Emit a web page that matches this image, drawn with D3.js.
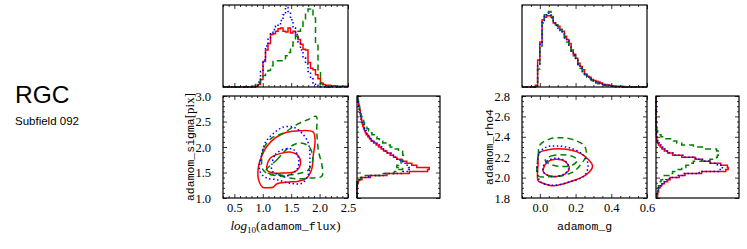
<!DOCTYPE html>
<html>
<head>
<meta charset="utf-8">
<script src="https://cdn.jsdelivr.net/npm/d3@7"></script>
<style>
    body { margin: 0; background: #fff; }
    svg { display: block; }
</style>
</head>
<body>
<div id="chart"></div>
<script>
// ---- data ----
// log10(flux) histograms: 50 bins from 0.3, width 0.044
const fluxEdge0 = 0.3, fluxBinWidth = 0.044;
const fluxRed = [0,0,0,0,0,0,0,0,0,0,0,0,0,
    0.01,0.03,0.09,0.31,0.45,0.53,0.64,0.65,0.68,0.71,0.72,0.68,0.67,0.72,0.66,0.68,0.62,0.58,0.52,0.46,0.45,
    0.30,0.23,0.21,0.15,0.10,0.05,0.03,0.02,0.02,0.015,0.015,0.01,0.01,0.01,0.01,0.01];
const fluxBlue = [0,0,0,0,0,0,0,0,0,0,0,0,0,
    0.01,0.05,0.19,0.33,0.50,0.60,0.66,0.70,0.74,0.77,0.81,0.88,0.97,0.92,0.82,0.72,0.64,0.55,0.45,0.36,0.28,
    0.19,0.10,0.05,0.02,0.01,0,0,0,0,0,0,0,0,0,0,0];
const fluxGreen = [0,0,0,0,0,0,0,0,0,0,0,0,
    0.01,0.03,0.06,0.10,0.14,0.18,0.20,0.26,0.31,0.32,0.32,0.32,0.33,0.38,0.42,0.50,0.55,0.62,0.68,0.74,0.80,
    0.92,0.95,0.96,0.84,0.53,0.21,0.04,0,0,0,0,0,0,0,0,0,0];

// sigma histograms: 50 bins from 1.0, width 0.04
const sigmaEdge0 = 1.0, sigmaBinWidth = 0.04;
const sigmaRed = [0,0,0,0,0,0,0,
    0.01,0.02,0.06,0.16,0.36,0.63,0.85,0.87,0.72,0.66,0.60,0.54,0.48,0.44,0.40,0.36,0.32,0.29,0.26,0.23,0.20,
    0.17,0.15,0.13,0.11,0.10,0.09,0.08,0.07,0.065,0.06,0.055,0.05,0.045,0.04,0.04,0.035,0.03,0.025,0.02,0.016,0.01,0.01];
const sigmaBlue = [0,0,0,0,0,0,0,0,
    0.01,0.05,0.14,0.34,0.55,0.62,0.64,0.62,0.58,0.55,0.52,0.48,0.45,0.41,0.37,0.33,0.30,0.27,0.24,0.21,0.18,
    0.16,0.14,0.12,0.11,0.10,0.09,0.08,0.07,0.06,0.05,0.045,0.04,0.035,0.03,0.025,0.02,0.02,0.015,0.01,0.005,0.005];
const sigmaGreen = [0,0,0,0,0,0,0,0,
    0.01,0.04,0.10,0.28,0.45,0.50,0.55,0.48,0.50,0.53,0.55,0.56,0.56,0.55,0.55,0.50,0.45,0.40,0.35,0.31,0.27,
    0.24,0.21,0.18,0.16,0.14,0.12,0.10,0.09,0.08,0.07,0.06,0.05,0.045,0.04,0.03,0.03,0.02,0.02,0.015,0.01,0.01];

// g histograms: 56 bins from -0.1, width 0.0125
const gEdge0 = -0.1, gBinWidth = 0.0125;
const gRed = [0,0,0,0,0,0,
    0.02,0.33,0.55,0.82,0.85,0.87,0.87,0.85,0.78,0.76,0.74,0.70,0.68,0.62,0.58,0.53,0.45,0.40,0.35,0.29,
    0.25,0.21,0.16,0.13,0.12,0.09,0.08,0.07,0.06,0.05,0.035,0.03,0.025,0.02,0.015,0.01,0.01,0.01,0.01,0.005,
    0,0,0,0,0,0,0,0,0,0];
const gBlue = [0,0,0,0,0,0,
    0.01,0.28,0.52,0.80,0.86,0.90,0.88,0.84,0.78,0.75,0.72,0.69,0.66,0.60,0.56,0.51,0.44,0.39,0.33,0.28,
    0.23,0.19,0.15,0.12,0.11,0.08,0.07,0.06,0.05,0.04,0.03,0.025,0.02,0.015,0.01,0.01,0.005,
    0,0,0,0,0,0,0,0,0,0,0,0,0];
const gGreen = [0,0,0,0,0,0,
    0.01,0.22,0.50,0.78,0.88,0.91,0.92,0.86,0.80,0.76,0.72,0.70,0.66,0.60,0.55,0.50,0.44,0.38,0.33,0.27,
    0.23,0.19,0.15,0.12,0.10,0.08,0.07,0.05,0.04,0.03,0.025,0.02,0.015,0.01,0.01,0.005,
    0,0,0,0,0,0,0,0,0,0,0,0,0,0];

// rho4 histograms: 50 bins from 1.8, width 0.02
const rhoEdge0 = 1.8, rhoBinWidth = 0.02;
const rhoRed = [0.01,0.02,0.02,0.03,0.03,0.05,0.07,0.10,0.14,0.17,
    0.28,0.35,0.55,0.84,0.87,0.86,0.78,0.65,0.55,0.47,
    0.31,0.20,0.14,0.10,0.07,0.05,0.03,0.02,0.01,0.01,
    0.005,0.005,0.005,0.005,0,0,0,0,0,0, 0,0,0,0,0,0,0,0,0,0];
const rhoBlue = [0.01,0.01,0.02,0.02,0.03,0.04,0.06,0.09,0.12,0.16,
    0.25,0.33,0.52,0.76,0.80,0.80,0.74,0.64,0.56,0.48,
    0.34,0.23,0.16,0.12,0.08,0.06,0.04,0.03,0.02,0.01,
    0.01,0.005,0,0,0,0,0,0,0,0, 0,0,0,0,0,0,0,0,0,0];
const rhoGreen = [0.01,0.01,0.02,0.02,0.03,0.03,0.04,0.05,0.06,0.08,
    0.10,0.18,0.20,0.25,0.31,0.36,0.43,0.45,0.65,0.73,
    0.74,0.75,0.76,0.73,0.60,0.45,0.31,0.25,0.21,0.12,
    0.06,0.03,0.02,0.01,0.01,0.01,0.01,0,0,0, 0,0,0,0,0,0,0,0,0,0];

// contour levels, [x, y] in data units
const fluxSigmaRed = [
    [[1.00,1.21],[0.92,1.39],[0.93,1.65],[0.98,1.82],[1.07,2.01],[1.22,2.18],[1.42,2.29],[1.66,2.32],[1.89,2.29],
     [1.92,2.11],[1.89,1.85],[1.86,1.56],[1.77,1.39],[1.63,1.33],[1.42,1.31],[1.25,1.28],[1.18,1.21],[1.07,1.20]],
    [[1.07,1.62],[1.13,1.78],[1.30,1.87],[1.48,1.90],[1.63,1.82],[1.66,1.65],[1.57,1.52],[1.36,1.49],[1.19,1.49],[1.08,1.54]]
];
const fluxSigmaBlue = [
    [[0.95,1.52],[0.98,1.85],[1.04,2.08],[1.19,2.27],[1.36,2.39],[1.54,2.39],[1.69,2.27],[1.80,2.08],[1.83,1.78],
     [1.80,1.46],[1.69,1.29],[1.48,1.29],[1.25,1.36],[1.07,1.39]],
    [[1.16,1.65],[1.22,1.85],[1.36,1.95],[1.54,1.95],[1.63,1.78],[1.60,1.56],[1.42,1.43],[1.25,1.47],[1.16,1.54]]
];
const fluxSigmaGreen = [
    [[0.98,1.75],[1.02,1.98],[1.16,2.18],[1.36,2.27],[1.60,2.44],[1.80,2.54],[1.94,2.60],[1.95,2.31],[1.98,1.92],
     [2.04,1.65],[2.04,1.43],[1.83,1.39],[1.54,1.38],[1.30,1.43],[1.10,1.47],[1.00,1.56]],
    [[1.05,1.52],[1.25,1.75],[1.45,1.98],[1.65,2.08],[1.82,2.00],[1.88,1.75],[1.80,1.55],[1.60,1.47],[1.30,1.45]]
];
const gRhoRed = [
    [[-0.01,1.97],[-0.01,2.13],[-0.005,2.24],[0.04,2.27],[0.13,2.28],[0.225,2.24],[0.27,2.18],[0.295,2.11],
     [0.26,2.03],[0.17,1.96],[0.075,1.92],[0.01,1.95]],
    [[0.02,2.09],[0.047,2.16],[0.094,2.18],[0.14,2.16],[0.165,2.09],[0.14,2.035],[0.094,2.01],[0.047,2.02],[0.02,2.055]]
];
const gRhoBlue = [
    [[-0.009,2.0],[-0.003,2.24],[0.038,2.30],[0.094,2.31],[0.17,2.29],[0.24,2.225],[0.27,2.13],[0.25,2.02],
     [0.17,1.96],[0.075,1.925],[0.01,1.95]],
    [[0.016,2.08],[0.038,2.16],[0.094,2.19],[0.15,2.15],[0.16,2.08],[0.13,2.03],[0.075,2.01],[0.03,2.035]]
];
const gRhoGreen = [
    [[-0.01,2.02],[-0.009,2.22],[0.0,2.32],[0.057,2.38],[0.13,2.39],[0.205,2.36],[0.25,2.31],[0.26,2.22],
     [0.23,2.13],[0.19,2.06],[0.13,2.02],[0.065,2.01]],
    [[0.03,2.17],[0.06,2.21],[0.12,2.225],[0.18,2.21],[0.21,2.17],[0.18,2.12],[0.12,2.11],[0.06,2.13]]
];

// tick labels
const fluxTicks = [0.5, 1.0, 1.5, 2.0, 2.5];
const sigmaTicks = [1.0, 1.5, 2.0, 2.5, 3.0];
const gTicks = [0.0, 0.2, 0.4, 0.6];
const rhoTicks = [1.8, 2.0, 2.2, 2.4, 2.6, 2.8];

// ---- layout / style ----
const width = 747, height = 249;
const mainW = 125, mainH = 102, mainTop = 96;
const histTop = 5, histH = 82, sideW = 83, gap = 9;
const serif = '"Liberation Serif", "DejaVu Serif", serif';
const mono = '"Liberation Mono", "DejaVu Sans Mono", monospace';
const styles = {
    red: { color: '#ff0000', dash: null },
    green: { color: '#008000', dash: '6,4' },
    blue: { color: '#0000ff', dash: '1.5,2.5' }
};

const svg = d3.select('#chart')
    .append('svg')
    .attr('width', width)
    .attr('height', height);

// turn bin counts into step outline points [edge, count]
function stepPoints(edge0, binWidth, counts) {
    const pts = [[edge0, 0]];
    counts.forEach((c, i) => {
        pts.push([edge0 + i * binWidth, c]);
        pts.push([edge0 + (i + 1) * binWidth, c]);
    });
    pts.push([edge0 + counts.length * binWidth, 0]);
    return pts;
}

function styleLine(sel, st) {
    sel.attr('fill', 'none')
        .attr('stroke', st.color)
        .attr('stroke-width', 1.5)
        .attr('stroke-dasharray', st.dash);
}

function frame(g, w, h) {
    g.append('rect')
        .attr('width', w)
        .attr('height', h)
        .attr('fill', 'none')
        .attr('stroke', '#000')
        .attr('stroke-width', 1.2);
}

// inward ticks on all sides that are asked for
function ticks(g, scale, sides, major, minor, labelled, w, h) {
    const mk = {
        bottom: [d3.axisBottom, `translate(0,${h})`],
        top: [d3.axisTop, 'translate(0,0)'],
        left: [d3.axisLeft, 'translate(0,0)'],
        right: [d3.axisRight, `translate(${w},0)`]
    };
    sides.forEach(side => {
        const [axisFn, tr] = mk[side];
        const showLabels = labelled === side;
        const ax = g.append('g')
            .attr('transform', tr)
            .call(axisFn(scale)
                .tickValues(major)
                .tickSizeInner(-4)
                .tickSizeOuter(0)
                .tickPadding(side === 'left' ? 12 : 5)
                .tickFormat(showLabels ? d3.format('.1f') : () => ''));
        ax.attr('font-family', serif).attr('font-size', 12.5);
        g.append('g')
            .attr('transform', tr)
            .call(axisFn(scale).tickValues(minor).tickSizeInner(-2).tickSizeOuter(0).tickFormat(() => ''));
    });
    g.selectAll('.domain').remove();
    g.selectAll('.tick line').attr('stroke', '#000').attr('stroke-width', 0.8);
    g.selectAll('.tick text').attr('fill', '#000');
}

function drawPanel(cfg) {
    const x = d3.scaleLinear().domain(cfg.xDomain).range([0, mainW]);
    const y = d3.scaleLinear().domain(cfg.yDomain).range([mainH, 0]);

    // main contour area
    const main = svg.append('g').attr('transform', `translate(${cfg.left},${mainTop})`);
    const clipId = 'clip-' + cfg.id;
    main.append('clipPath').attr('id', clipId)
        .append('rect').attr('width', mainW).attr('height', mainH);
    const contour = d3.line()
        .x(d => x(d[0]))
        .y(d => y(d[1]))
        .curve(d3.curveCatmullRomClosed.alpha(0.5));
    const cg = main.append('g').attr('clip-path', `url(#${clipId})`);
    cfg.contours.forEach(c => {
        c.levels.forEach(level => {
            cg.append('path').attr('d', contour(level)).call(styleLine, styles[c.key]);
        });
    });
    ticks(main, x, ['bottom', 'top'], cfg.xTicks, cfg.xMinor, 'bottom', mainW, mainH);
    ticks(main, y, ['left', 'right'], cfg.yTicks, cfg.yMinor, 'left', mainW, mainH);
    frame(main, mainW, mainH);

    // x label
    cfg.xLabel(main.append('text')
        .attr('x', mainW / 2)
        .attr('y', 134)
        .attr('text-anchor', 'middle')
        .attr('fill', '#000'));
    // y label
    cfg.yLabel(main.append('text')
        .attr('transform', `translate(-29,${mainH / 2}) rotate(-90)`)
        .attr('text-anchor', 'middle')
        .attr('fill', '#000'));

    // top histogram
    const top = svg.append('g').attr('transform', `translate(${cfg.left},${histTop})`);
    const hy = d3.scaleLinear().domain([0, 1]).range([histH, 0]);
    const topLine = d3.line().x(d => x(d[0])).y(d => hy(d[1]));
    cfg.topHist.forEach(hd => {
        top.append('path')
            .attr('d', topLine(stepPoints(cfg.xEdge0, cfg.xBinWidth, hd.counts)))
            .call(styleLine, styles[hd.key]);
    });
    ticks(top, x, ['bottom', 'top'], cfg.xTicks, cfg.xMinor, null, mainW, histH);
    frame(top, mainW, histH);

    // side histogram
    const side = svg.append('g').attr('transform', `translate(${cfg.left + mainW + gap},${mainTop})`);
    const hx = d3.scaleLinear().domain([0, 1]).range([0, sideW]);
    const sideLine = d3.line().x(d => hx(d[1])).y(d => y(d[0]));
    cfg.sideHist.forEach(hd => {
        side.append('path')
            .attr('d', sideLine(stepPoints(cfg.yEdge0, cfg.yBinWidth, hd.counts)))
            .call(styleLine, styles[hd.key]);
    });
    ticks(side, y, ['left', 'right'], cfg.yTicks, cfg.yMinor, null, sideW, mainH);
    frame(side, sideW, mainH);
}

drawPanel({
    id: 'flux',
    left: 223,
    xDomain: [0.3, 2.5],
    yDomain: [1.0, 3.0],
    xTicks: fluxTicks,
    xMinor: d3.range(3, 26).filter(v => v % 5).map(v => v / 10),
    yTicks: sigmaTicks,
    yMinor: d3.range(10, 31).filter(v => v % 5).map(v => v / 10),
    xEdge0: fluxEdge0, xBinWidth: fluxBinWidth,
    yEdge0: sigmaEdge0, yBinWidth: sigmaBinWidth,
    contours: [
        { key: 'red', levels: fluxSigmaRed },
        { key: 'green', levels: fluxSigmaGreen },
        { key: 'blue', levels: fluxSigmaBlue }
    ],
    topHist: [
        { key: 'red', counts: fluxRed },
        { key: 'green', counts: fluxGreen },
        { key: 'blue', counts: fluxBlue }
    ],
    sideHist: [
        { key: 'red', counts: sigmaRed },
        { key: 'green', counts: sigmaGreen },
        { key: 'blue', counts: sigmaBlue }
    ],
    xLabel: t => {
        t.append('tspan').attr('font-family', serif).attr('font-style', 'italic').attr('font-size', 13).text('log');
        t.append('tspan').attr('font-family', serif).attr('font-size', 9).attr('dy', 3).text('10');
        t.append('tspan').attr('font-family', serif).attr('font-size', 13).attr('dy', -3).text('(');
        t.append('tspan').attr('font-family', mono).attr('font-size', 11.5).text('adamom_flux');
        t.append('tspan').attr('font-family', serif).attr('font-size', 13).text(')');
    },
    yLabel: t => {
        t.append('tspan').attr('font-family', mono).attr('font-size', 11.5).text('adamom_sigma');
        t.append('tspan').attr('font-family', serif).attr('font-size', 13).text('[pix]');
    }
});

drawPanel({
    id: 'g',
    left: 522,
    xDomain: [-0.1, 0.6],
    yDomain: [1.8, 2.8],
    xTicks: gTicks,
    xMinor: d3.range(-2, 13).filter(v => v % 4).map(v => v / 20),
    yTicks: rhoTicks,
    yMinor: d3.range(36, 57).filter(v => v % 4).map(v => v / 20),
    xEdge0: gEdge0, xBinWidth: gBinWidth,
    yEdge0: rhoEdge0, yBinWidth: rhoBinWidth,
    contours: [
        { key: 'red', levels: gRhoRed },
        { key: 'green', levels: gRhoGreen },
        { key: 'blue', levels: gRhoBlue }
    ],
    topHist: [
        { key: 'red', counts: gRed },
        { key: 'green', counts: gGreen },
        { key: 'blue', counts: gBlue }
    ],
    sideHist: [
        { key: 'red', counts: rhoRed },
        { key: 'green', counts: rhoGreen },
        { key: 'blue', counts: rhoBlue }
    ],
    xLabel: t => {
        t.append('tspan').attr('font-family', mono).attr('font-size', 11.5).text('adamom_g');
    },
    yLabel: t => {
        t.append('tspan').attr('font-family', mono).attr('font-size', 11.5).text('adamom_rho4');
    }
});

// field title
svg.append('text')
    .attr('x', 15)
    .attr('y', 103)
    .attr('font-family', '"Liberation Sans", Arial, sans-serif')
    .attr('font-size', 24.5)
    .attr('fill', '#000')
    .text('RGC');
svg.append('text')
    .attr('x', 15)
    .attr('y', 125)
    .attr('font-family', '"Liberation Sans", Arial, sans-serif')
    .attr('font-size', 11.5)
    .attr('fill', '#000')
    .text('Subfield 092');
</script>
</body>
</html>
